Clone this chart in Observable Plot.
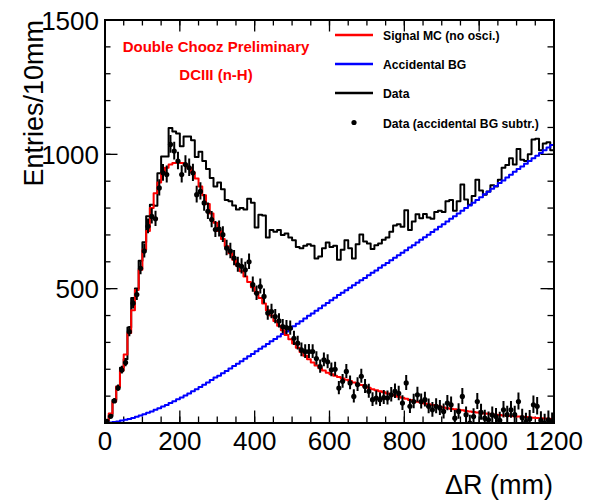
<!DOCTYPE html>
<html><head><meta charset="utf-8">
<script src="https://cdn.jsdelivr.net/npm/d3@7"></script>
<script src="https://cdn.jsdelivr.net/npm/@observablehq/plot@0.6"></script>
<style>
body{margin:0;background:#fff;}
#chart{width:607px;height:502px;}
</style></head><body><div id="chart"></div>
<script>
// ---- data (10 mm bins from 0 to 1200 mm) ----
const binWidth = 10;
const xMax = 1200;
const yMax = 1500;

const dataHist = [
7,27,86,136,206,237,355,465,501,604,
673,770,812,809,930,992,992,1098,1085,1078,
1030,1066,1066,1052,990,1010,975,945,912,880,
895,870,830,825,810,795,800,795,835,820,
728,775,772,690,718,712,718,700,705,690,
680,655,650,660,665,660,612,620,650,672,
655,660,608,645,680,650,612,665,702,676,
668,648,662,668,682,690,712,735,740,730,
792,718,750,777,762,778,765,760,785,790,
785,825,830,790,825,888,832,812,845,905,
865,850,862,885,880,905,950,960,985,962,
1020,980,975,1000,1055,1058,1015,1040,1045,1015];

const accidentalBG = [
0.5,2,4,6,9,12,15,19,23,28,
33,38,43,49,55,61,67,74,81,88,
95,102,110,118,126,134,142,151,160,169,
176,185,194,203,212,221,230,239,248,257,
267,276,285,294,304,313,322,331,341,350,
360,369,379,389,399,408,418,427,437,447,
457,466,476,485,494,503,513,522,531,540,
550,559,568,578,587,596,606,615,624,634,
643,653,662,672,682,691,701,711,720,730,
740,750,760,770,780,790,800,810,820,830,
840,851,861,872,882,893,903,914,924,935,
945,955,965,975,985,995,1005,1015,1025,1035];

const signalMC = [
10,35,80,135,195,255,335,420,495,570,
645,715,800,855,895,930,950,962,968,970,
968,962,950,932,910,880,848,815,780,745,
715,685,658,632,608,585,565,545,525,505,
488,465,445,420,400,380,362,345,328,312,
296,280,264,250,237,225,214,204,195,187,
181,176,171,166,161,156,151,146,141,136,
131,126,122,118,114,110,106,102,98,94,
90,86,82,79,76,73,70,67,64,61,
58,55,53,51,49,47,45,43,41,39,
37,35,34,32,31,30,28,27,26,25,
24,23,22,21,20,19,18,17,16,15];

const dataSubtr = [
6,25,82,130,197,225,340,446,478,576,
640,732,769,760,875,931,925,1037,1012,975,
925,962,950,931,850,862,819,788,757,720,
722,701,651,640,614,589,583,570,600,515,
483,508,471,409,415,396,380,359,355,353,
315,297,272,266,266,266,240,210,235,228,
198,200,130,155,192,149,99,143,174,136,
118,87,93,87,95,93,105,118,110,74,
149,62,80,105,80,87,62,49,62,56,
43,74,68,18,43,99,31,0,24,80,
40,18,12,30,24,10,49,31,49,31,
80,20,5,15,68,62,10,0,12,5];

const xTickLabels = [0,200,400,600,800,1000,1200];
const xMinorTicks = d3.range(0, xMax + 1, 50);
const yTickLabels = [500,1000,1500];
const yMajorTicks = [0,500,1000,1500];
const yMinorTicks = d3.range(0, yMax + 1, 100);

const legendLabels = ["Signal MC (no osci.)","Accidental BG","Data","Data (accidental BG subtr.)"];
const legendColors = ["#ff0000","#0000ff","#000000","#000000"];

// ---- build tables ----
const edges = d3.range(0, xMax, binWidth);
function stepRows(vals){
  const rows = edges.map((x,i)=>({x, y: vals[i]}));
  rows.push({x: xMax, y: vals[vals.length-1]});
  return rows;
}
const pts = edges.map((x,i)=>({x: x + binWidth/2, y: dataSubtr[i], err: Math.sqrt(dataHist[i])}));

// ---- layout ----
const W = 607, H = 502;
const mL = 104.5, mR = 53.5, mT = 19.5, mB = 79.5;
const FW = W - mL - mR, FH = H - mT - mB;
const font = "'Liberation Sans', Arial, Helvetica, sans-serif";

const svg = Plot.plot({
  width: W, height: H,
  marginLeft: mL, marginRight: mR, marginTop: mT, marginBottom: mB,
  style: {fontFamily: font, background: "white", color: "black", overflow: "visible"},
  x: {domain: [0, xMax]},
  y: {domain: [0, yMax]},
  marks: [
    // inward ticks (ROOT style, all four sides)
    Plot.ruleX(xMinorTicks, {x: d=>d, insetTop: FH - 6, strokeWidth: 1.3}),
    Plot.ruleX(xTickLabels, {x: d=>d, insetTop: FH - 12, strokeWidth: 1.3}),
    Plot.ruleX(xMinorTicks, {x: d=>d, insetBottom: FH - 6, strokeWidth: 1.3}),
    Plot.ruleX(xTickLabels, {x: d=>d, insetBottom: FH - 12, strokeWidth: 1.3}),
    Plot.ruleY(yMinorTicks, {y: d=>d, insetRight: FW - 6, strokeWidth: 1.3}),
    Plot.ruleY(yMajorTicks, {y: d=>d, insetRight: FW - 13, strokeWidth: 1.3}),
    Plot.ruleY(yMinorTicks, {y: d=>d, insetLeft: FW - 6, strokeWidth: 1.3}),
    Plot.ruleY(yMajorTicks, {y: d=>d, insetLeft: FW - 13, strokeWidth: 1.3}),
    // tick labels
    Plot.axisX(xTickLabels, {anchor: "bottom", tickSize: 0, tickPadding: 9, fontSize: 26, label: null, tickFormat: d => String(d)}),
    Plot.axisY(yTickLabels, {anchor: "left", tickSize: 0, tickPadding: 6, fontSize: 26, label: null, tickFormat: d => String(d), dy: 1.5}),
    // histograms
    Plot.line(stepRows(dataHist), {x: "x", y: "y", curve: "step-after", stroke: "#000", strokeWidth: 2}),
    Plot.line(stepRows(accidentalBG), {x: "x", y: "y", curve: "step-after", stroke: "#0000ff", strokeWidth: 2}),
    Plot.line(stepRows(signalMC), {x: "x", y: "y", curve: "step-after", stroke: "#ff0000", strokeWidth: 2}),
    // bg-subtracted data points with errors
    Plot.ruleX(pts, {x: "x", y1: d => d.y - d.err, y2: d => d.y + d.err, stroke: "#000", strokeWidth: 2, clip: true}),
    Plot.dot(pts, {x: "x", y: "y", r: 2.6, fill: "#000", stroke: "none", clip: true}),
    Plot.frame({stroke: "#000", strokeWidth: 2})
  ]
});
document.getElementById("chart").appendChild(svg);

const s = d3.select(svg);
// axis titles
s.append("text").attr("x", 553).attr("y", 494).attr("text-anchor", "end")
  .attr("font-family", font).attr("font-size", 27).attr("fill", "#000").text("ΔR (mm)");
s.append("text").attr("transform", "translate(43,20) rotate(-90)").attr("text-anchor", "end")
  .attr("font-family", font).attr("font-size", 27).attr("fill", "#000").text("Entries/10mm");
// annotations
s.append("text").attr("x", 216).attr("y", 52).attr("text-anchor", "middle")
  .attr("font-family", font).attr("font-size", 15).attr("font-weight", "bold").attr("fill", "#ff0000")
  .text("Double Chooz Preliminary");
s.append("text").attr("x", 216).attr("y", 79.5).attr("text-anchor", "middle")
  .attr("font-family", font).attr("font-size", 15).attr("font-weight", "bold").attr("fill", "#ff0000")
  .text("DCIII (n-H)");
// legend
const rowY = [35, 64, 93, 122.5];
legendLabels.forEach((lab, i) => {
  if (i < 3) {
    s.append("line").attr("x1", 335).attr("x2", 373).attr("y1", rowY[i]).attr("y2", rowY[i])
      .attr("stroke", legendColors[i]).attr("stroke-width", 2.5);
  } else {
    s.append("circle").attr("cx", 354).attr("cy", rowY[i]).attr("r", 2.6).attr("fill", "#000");
  }
  s.append("text").attr("x", 383).attr("y", rowY[i] + 5.2).attr("text-anchor", "start")
    .attr("font-family", font).attr("font-size", 12.2).attr("font-weight", "bold").attr("fill", "#000")
    .text(lab);
});
</script></body></html>
